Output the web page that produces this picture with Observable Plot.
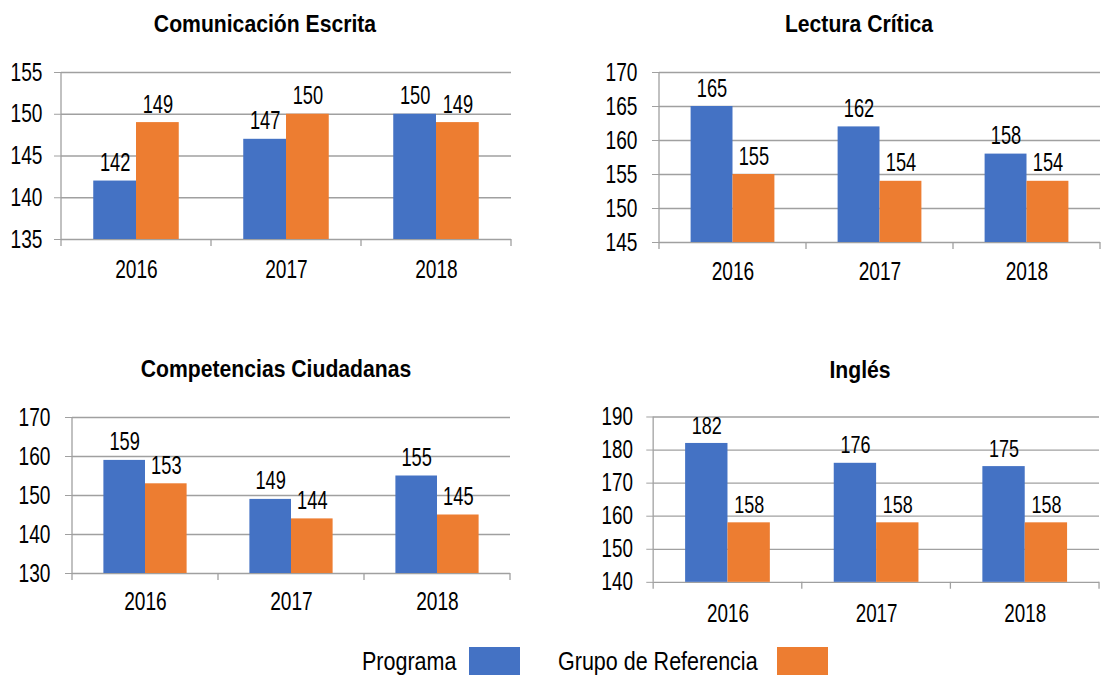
<!DOCTYPE html>
<html>
<head>
<meta charset="utf-8">
<script src="https://cdn.jsdelivr.net/npm/d3@7"></script>
<script src="https://cdn.jsdelivr.net/npm/@observablehq/plot@0.6"></script>
<style>
html, body { margin: 0; padding: 0; background: #fff; }
#root { position: relative; width: 1102px; height: 675px; overflow: hidden; background: #fff;
  font-family: "Liberation Sans", Arial, sans-serif; color: #000; }
.panel { position: absolute; }
.title { position: absolute; font-family: "Liberation Sans", Arial, sans-serif; font-weight: bold;
  font-size: 23px; transform: translate(-50%, -50%) scaleX(0.92); white-space: nowrap; color: #000; }
.legend { position: absolute; left: 0; top: 0; width: 1102px; height: 675px; pointer-events: none; }
.legend .lab { position: absolute; font-size: 25px; transform-origin: left center;
  transform: translateY(-50%) scaleX(0.86); white-space: nowrap; }
.legend .sw { position: absolute; }
</style>
</head>
<body>
<div id="root"></div>
<script>
// ---- data ----
const years = ["2016", "2017", "2018"];
const series = ["Programa", "Grupo de Referencia"];
const colors = ["#4472C4", "#ED7D31"];

const titles = ["Comunicación Escrita", "Lectura Crítica", "Competencias Ciudadanas", "Inglés"];

const comunicacionPrograma = [142, 147, 150];
const comunicacionGrupo    = [149, 150, 149];
const lecturaPrograma      = [165, 162, 158];
const lecturaGrupo         = [155, 154, 154];
const ciudadanasPrograma   = [159, 149, 155];
const ciudadanasGrupo      = [153, 144, 145];
const inglesPrograma       = [182, 176, 175];
const inglesGrupo          = [158, 158, 158];

const ticksComunicacion = [135, 140, 145, 150, 155];
const ticksLectura      = [145, 150, 155, 160, 165, 170];
const ticksCiudadanas   = [130, 140, 150, 160, 170];
const ticksIngles       = [140, 150, 160, 170, 180, 190];

// ---- layout ----
const layouts = [
  {left: 0,   top: 40,  width: 540, height: 260, ml: 61, mr: 29, mt: 32, mb: 61, tp: 12, xp: 20, tx: 265, ty: 24},
  {left: 600, top: 40,  width: 502, height: 260, ml: 59, mr: 2,  mt: 32, mb: 58, tp: 15, xp: 19, tx: 859, ty: 24},
  {left: 0,   top: 385, width: 540, height: 260, ml: 72, mr: 30, mt: 32, mb: 72, tp: 15, xp: 18, tx: 276, ty: 369},
  {left: 600, top: 385, width: 510, height: 260, ml: 54, mr: 3,  mt: 32, mb: 60, tp: 14, xp: 22, tx: 860, ty: 370}
];

const panelsData = [
  [comunicacionPrograma, comunicacionGrupo, ticksComunicacion],
  [lecturaPrograma, lecturaGrupo, ticksLectura],
  [ciudadanasPrograma, ciudadanasGrupo, ticksCiudadanas],
  [inglesPrograma, inglesGrupo, ticksIngles]
];

const root = document.getElementById("root");
const gridColor = "#a0a0a0";
const fontStack = '"Liberation Sans", Arial, sans-serif';

// narrow the (Arial-like) text horizontally around its anchor, like Arial Narrow
function narrowTexts(svg, sTick, sLabel) {
  svg.querySelectorAll("text").forEach(el => {
    const bb = el.getBBox();
    const anchor = getComputedStyle(el).textAnchor;
    const isEnd = anchor === "end";
    const cx = isEnd ? bb.x + bb.width : bb.x + bb.width / 2;
    const s = el.closest('[aria-label="text"]') ? sLabel : sTick;
    const old = el.getAttribute("transform") || "";
    el.setAttribute("transform", `${old} translate(${cx},0) scale(${s},1) translate(${-cx},0)`);
  });
}

panelsData.forEach(([prog, grupo, ticks], k) => {
  const L = layouts[k];
  const ymin = ticks[0], ymax = ticks[ticks.length - 1];
  const rows = [];
  years.forEach((y, i) => {
    rows.push({year: y, series: series[0], value: prog[i]});
    rows.push({year: y, series: series[1], value: grupo[i]});
  });
  const step = (L.width - L.ml - L.mr) / years.length;
  const outer = 0.215 * step, bw = 0.285 * step;
  const off = (outer + bw / 2) - step / 2; // offset of bar center from band center

  const chart = Plot.plot({
    width: L.width, height: L.height,
    marginLeft: L.ml, marginRight: L.mr, marginTop: L.mt, marginBottom: L.mb,
    style: {fontFamily: fontStack, fontSize: "25.5px", color: "#000", background: "transparent", overflow: "visible"},
    x: {domain: years, padding: 0, tickSize: 0, tickPadding: L.xp, label: null},
    y: {domain: [ymin, ymax], ticks: ticks, tickSize: 7, tickPadding: L.tp, label: null},
    marks: [
      Plot.ruleY(ticks, {stroke: gridColor, strokeWidth: 1.3}),
      Plot.barY(rows.filter(d => d.series === series[0]), {
        x: "year", y1: ymin, y2: "value", fill: colors[0],
        insetLeft: outer, insetRight: step - outer - bw
      }),
      Plot.barY(rows.filter(d => d.series === series[1]), {
        x: "year", y1: ymin, y2: "value", fill: colors[1],
        insetLeft: outer + bw, insetRight: outer
      }),
      Plot.text(rows.filter(d => d.series === series[0]), {
        x: "year", y: "value", text: d => String(d.value), dx: off, dy: -18,
        fontSize: 25, fill: "#000"
      }),
      Plot.text(rows.filter(d => d.series === series[1]), {
        x: "year", y: "value", text: d => String(d.value), dx: -off, dy: -18,
        fontSize: 25, fill: "#000"
      })
    ]
  });

  // axis line and category boundary ticks, from the chart's own x scale
  const sx = chart.scale("x");
  const svg = d3.select(chart);
  svg.selectAll('[aria-label="y-axis tick"]').attr("stroke", gridColor).selectAll("path,line").attr("stroke", gridColor);
  const yb = L.height - L.mb;
  const g = svg.append("g").attr("stroke", gridColor).attr("stroke-width", 1.3);
  g.append("line").attr("x1", L.ml).attr("x2", L.ml).attr("y1", L.mt).attr("y2", yb);
  for (let i = 0; i <= years.length; i++) {
    const x = sx.range[0] + i * sx.step;
    g.append("line").attr("x1", x).attr("x2", x).attr("y1", yb).attr("y2", yb + 7);
  }

  const div = document.createElement("div");
  div.className = "panel";
  div.style.left = L.left + "px";
  div.style.top = L.top + "px";
  div.appendChild(chart);
  root.appendChild(div);
  narrowTexts(chart, 0.75, 0.73);

  const t = document.createElement("div");
  t.className = "title";
  t.textContent = titles[k];
  t.style.left = L.tx + "px";
  t.style.top = L.ty + "px";
  root.appendChild(t);
});

// ---- legend ----
const legend = document.createElement("div");
legend.className = "legend";
const legendItems = [
  {text: series[0], tx: 362, sx: 469},
  {text: series[1], tx: 558, sx: 777}
];
legendItems.forEach((it, i) => {
  const lab = document.createElement("div");
  lab.className = "lab";
  lab.textContent = it.text;
  lab.style.left = it.tx + "px";
  lab.style.top = "661px";
  legend.appendChild(lab);
  const sw = document.createElement("div");
  sw.className = "sw";
  sw.style.left = it.sx + "px";
  sw.style.top = "647px";
  sw.style.width = "51px";
  sw.style.height = "29px";
  sw.style.background = colors[i];
  legend.appendChild(sw);
});
root.appendChild(legend);
</script>
</body>
</html>
